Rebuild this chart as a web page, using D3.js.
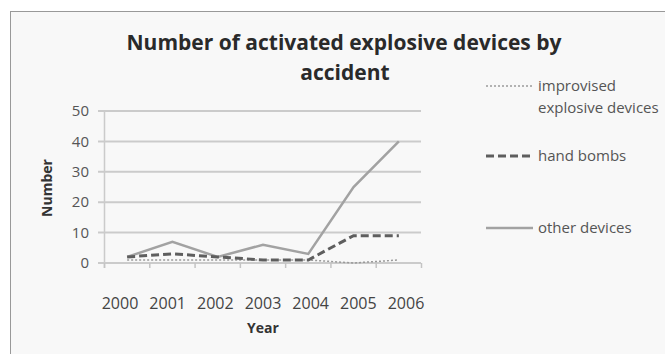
<!DOCTYPE html>
<html>
<head>
<meta charset="utf-8">
<script src="https://cdn.jsdelivr.net/npm/d3@7"></script>
<style>
  body { margin: 0; background: #fff; }
  text { font-family: "Open Sans", "DejaVu Sans", sans-serif; }
</style>
</head>
<body>
<svg id="chart" width="665" height="354"></svg>
<script>
// chart values
var years = ["2000", "2001", "2002", "2003", "2004", "2005", "2006"];
var improvised = [1, 1, 1, 1, 1, 0, 1];
var handBombs = [2, 3, 2, 1, 1, 9, 9];
var otherDevices = [2, 7, 2, 6, 3, 25, 40];
var yTicks = [0, 10, 20, 30, 40, 50];

var series = [
  { name: ["improvised", "explosive devices"], values: improvised, dash: "2,2", width: 1.5, color: "#9a9a9a", ly: 86 },
  { name: ["hand bombs"], values: handBombs, dash: "8,4", width: 3, color: "#5e5e5e", ly: 156 },
  { name: ["other devices"], values: otherDevices, dash: null, width: 2.5, color: "#a2a2a2", ly: 228 }
];

var svg = d3.select("#chart");

// outer frame
svg.append("rect")
  .attr("x", 10.5).attr("y", 11.5)
  .attr("width", 660).attr("height", 350)
  .attr("fill", "#f8f8f8")
  .attr("stroke", "#999");

// title
svg.append("text")
  .attr("x", 344).attr("y", 50)
  .attr("text-anchor", "middle")
  .style("font-size", "21px").style("font-weight", "bold")
  .attr("fill", "#2a2a2a")
  .text("Number of activated explosive devices by");
svg.append("text")
  .attr("x", 345).attr("y", 80)
  .attr("text-anchor", "middle")
  .style("font-size", "21px").style("font-weight", "bold")
  .attr("fill", "#2a2a2a")
  .text("accident");

// scales
var x = d3.scaleBand().domain(years).range([104.5, 421.5]);
var xLab = d3.scalePoint().domain(years).range([120, 406]);
var y = d3.scaleLinear().domain([0, 50]).range([263, 111]);

// gridlines
svg.selectAll("line.grid")
  .data(yTicks)
  .enter().append("line")
  .attr("class", "grid")
  .attr("x1", 98).attr("x2", 421)
  .attr("y1", function(d) { return y(d); })
  .attr("y2", function(d) { return y(d); })
  .attr("stroke", "#cbcbcb")
  .attr("stroke-width", 2);

// y axis line
svg.append("line")
  .attr("x1", 104.5).attr("x2", 104.5)
  .attr("y1", y(50)).attr("y2", y(0) + 5)
  .attr("stroke", "#cbcbcb").attr("stroke-width", 1.5);

// x ticks at category borders
svg.selectAll("line.xtick")
  .data(years.concat(["end"]))
  .enter().append("line")
  .attr("class", "xtick")
  .attr("x1", function(d, i) { return 104.5 + i * x.step(); })
  .attr("x2", function(d, i) { return 104.5 + i * x.step(); })
  .attr("y1", y(0)).attr("y2", y(0) + 5)
  .attr("stroke", "#c4c4c4").attr("stroke-width", 1.5);

// y tick labels
svg.selectAll("text.ylab")
  .data(yTicks)
  .enter().append("text")
  .attr("class", "ylab")
  .attr("x", 89)
  .attr("y", function(d) { return y(d); })
  .attr("dy", ".35em")
  .attr("text-anchor", "end")
  .style("font-size", "15px")
  .attr("fill", "#555")
  .text(function(d) { return d; });

// x tick labels
svg.selectAll("text.xlab")
  .data(years)
  .enter().append("text")
  .attr("class", "xlab")
  .attr("x", function(d) { return xLab(d); })
  .attr("y", 309)
  .attr("text-anchor", "middle")
  .style("font-size", "16px")
  .attr("fill", "#444")
  .text(function(d) { return d; });

// axis titles
svg.append("text")
  .attr("transform", "translate(52,188) rotate(-90)")
  .attr("text-anchor", "middle")
  .style("font-size", "14px").style("font-weight", "bold")
  .attr("fill", "#333")
  .text("Number");
svg.append("text")
  .attr("x", 263).attr("y", 333)
  .attr("text-anchor", "middle")
  .style("font-size", "14px").style("font-weight", "bold")
  .attr("fill", "#333")
  .text("Year");

// series lines
var line = d3.line()
  .x(function(d, i) { return x(years[i]) + x.bandwidth() / 2; })
  .y(function(d) { return y(d); });

svg.selectAll("path.series")
  .data(series)
  .enter().append("path")
  .attr("class", "series")
  .attr("d", function(d) { return line(d.values); })
  .attr("fill", "none")
  .attr("stroke", function(d) { return d.color; })
  .attr("stroke-width", function(d) { return d.width; })
  .attr("stroke-dasharray", function(d) { return d.dash; });
// hand bombs drawn on top
svg.selectAll("path.series").filter(function(d) { return d.name[0] == "hand bombs"; }).raise();

// legend
var legend = svg.selectAll("g.legend")
  .data(series)
  .enter().append("g")
  .attr("class", "legend")
  .attr("transform", function(d) { return "translate(486," + d.ly + ")"; });

legend.append("line")
  .attr("x1", 0).attr("x2", 47)
  .attr("y1", 0).attr("y2", 0)
  .attr("stroke", function(d) { return d.color; })
  .attr("stroke-width", function(d) { return d.width; })
  .attr("stroke-dasharray", function(d) { return d.dash; });

legend.selectAll("text")
  .data(function(d) { return d.name; })
  .enter().append("text")
  .attr("x", 52)
  .attr("y", function(d, i) { return i * 22; })
  .attr("dy", ".35em")
  .style("font-size", "15px")
  .attr("fill", "#555")
  .text(function(d) { return d; });
</script>
</body>
</html>
